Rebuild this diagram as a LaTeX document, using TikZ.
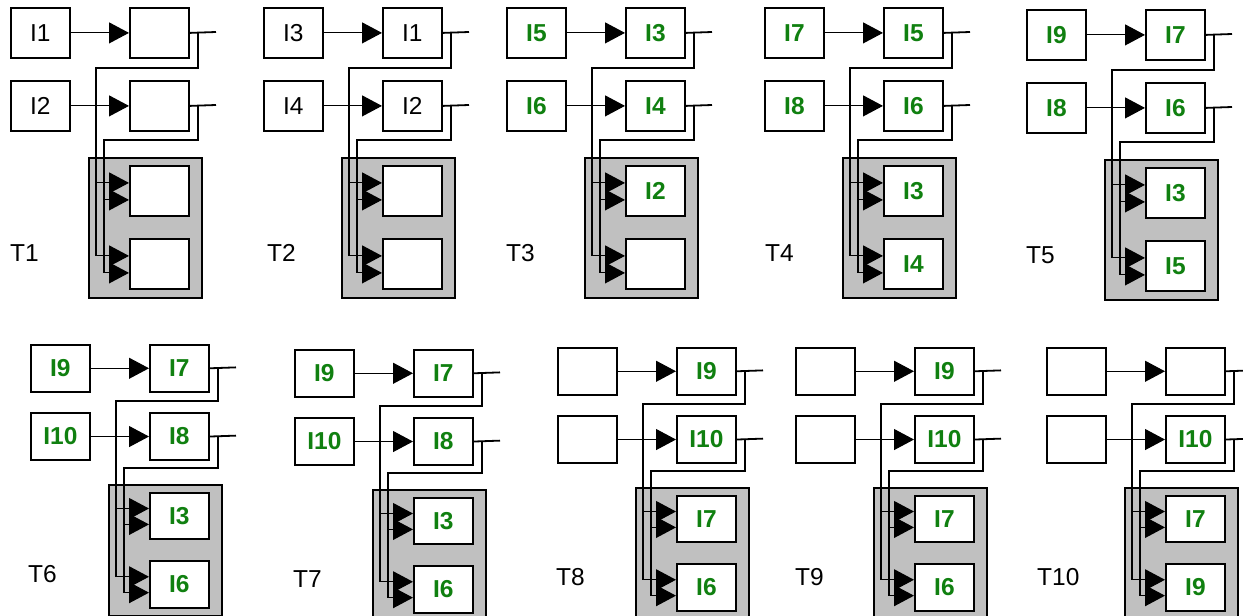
\documentclass[tikz,border=0pt]{standalone}
\usepackage{fontspec}
\setmainfont{Liberation Sans}
\usetikzlibrary{arrows.meta,calc}
\definecolor{igreen}{RGB}{16,128,16}
\definecolor{panelgray}{RGB}{192,192,192}
\newcommand\gi[1]{\textbf{\textcolor{igreen}{#1}}}
\tikzset{
  box/.style={draw=black, line width=1.8pt, fill=white, minimum width=59pt,
    inner sep=0pt, font=\fontsize{24.5}{28}\selectfont, anchor=north west},
  graybox/.style={draw=black, line width=1.8pt, fill=panelgray, minimum width=113pt,
    inner sep=0pt, anchor=north west},
  tlabel/.style={font=\fontsize{24.5}{28}\selectfont, anchor=west, inner sep=0pt},
  wire/.style={draw=black, line width=1.8pt},
  feed/.style={draw=black, line width=1.1pt, -{Triangle[length=20pt,width=21pt]}},
}
\newcommand\panel[9]{%
  \def\pn{#1}\def\px{#2}\def\py{#3}\def\ps{#4}\def\plab{#5}%
  \def\pa{#6}\def\pb{#7}\def\pc{#8}\def\pd{#9}\panelrest}
\newcommand\panelrest[3]{%
  \begin{scope}[shift={(\px,\py)}, yscale=\ps]
    \pgfmathsetmacro\bh{50*\ps}%
    \pgfmathsetmacro\gh{140*\ps}%
    \node[box, minimum height=\bh pt] (\pn-l1) at (0,0) {\pa};
    \node[box, minimum height=\bh pt] (\pn-r1) at (119,0) {\pb};
    \node[box, minimum height=\bh pt] (\pn-l2) at (0,73) {\pc};
    \node[box, minimum height=\bh pt] (\pn-r2) at (119,73) {\pd};
    \node[graybox, minimum height=\gh pt] (\pn-g) at (78,150) {};
    \node[box, minimum height=\bh pt] (\pn-q1) at (119,158) {#1};
    \node[box, minimum height=\bh pt] (\pn-q2) at (119,231) {#2};
    \node[tlabel] (\pn-t) at (#3,246) {\plab};
    % input arrows
    \draw[feed] (\pn-l1.east) -- (\pn-r1.west);
    \draw[feed] (\pn-l2.east) -- (\pn-r2.west);
    % stubs and routes
    \coordinate (\pn-s1) at (206,25);
    \coordinate (\pn-s2) at (206,98);
    \coordinate (\pn-a1) at (188,25);
    \coordinate (\pn-a2) at (188,98);
    \coordinate (\pn-c1) at (86,61);
    \coordinate (\pn-c2) at (94,133);
    \coordinate (\pn-e11) at ([yshift=8pt]\pn-q1.west);
    \coordinate (\pn-e12) at ([yshift=-9pt]\pn-q1.west);
    \coordinate (\pn-e21) at ([yshift=8pt]\pn-q2.west);
    \coordinate (\pn-e22) at ([yshift=-9pt]\pn-q2.west);
    \draw[wire] (\pn-r1.east) -- (\pn-s1);
    \draw[wire] (\pn-r2.east) -- (\pn-s2);
    \draw[wire] (\pn-a1) |- (\pn-c1) -- (\pn-c1 |- \pn-e21);
    \draw[wire] (\pn-a2) |- (\pn-c2) -- (\pn-c2 |- \pn-e22);
    \draw[feed] (\pn-c1 |- \pn-e11) -- (\pn-e11);
    \draw[feed] (\pn-c1 |- \pn-e21) -- (\pn-e21);
    \draw[feed] (\pn-c2 |- \pn-e12) -- (\pn-e12);
    \draw[feed] (\pn-c2 |- \pn-e22) -- (\pn-e22);
  \end{scope}}
\begin{document}
\begin{tikzpicture}[x=1pt,y=-1pt]
  \useasboundingbox (0,0) rectangle (1243,616);
  \fill[white] (0,0) rectangle (1243,616);
  \clip (0,0) rectangle (1243,616);
  \panel{T1}{10}{7}{1}{T1}{I1}{}{I2}{}{}{}{0}
  \panel{T2}{263}{7}{1}{T2}{I3}{I1}{I4}{I2}{}{}{4}
  \panel{T3}{506}{7}{1}{T3}{\gi{I5}}{\gi{I3}}{\gi{I6}}{\gi{I4}}{\gi{I2}}{}{0}
  \panel{T4}{764}{7}{1}{T4}{\gi{I7}}{\gi{I5}}{\gi{I8}}{\gi{I6}}{\gi{I3}}{\gi{I4}}{1}
  \panel{T5}{1026}{9}{1}{T5}{\gi{I9}}{\gi{I7}}{\gi{I8}}{\gi{I6}}{\gi{I3}}{\gi{I5}}{0}
  \panel{T6}{30}{344}{0.935}{T6}{\gi{I9}}{\gi{I7}}{\gi{I10}}{\gi{I8}}{\gi{I3}}{\gi{I6}}{-2}
  \panel{T7}{294}{349}{0.935}{T7}{\gi{I9}}{\gi{I7}}{\gi{I10}}{\gi{I8}}{\gi{I3}}{\gi{I6}}{-1}
  \panel{T8}{557}{347}{0.935}{T8}{}{\gi{I9}}{}{\gi{I10}}{\gi{I7}}{\gi{I6}}{-1}
  \panel{T9}{795}{347}{0.935}{T9}{}{\gi{I9}}{}{\gi{I10}}{\gi{I7}}{\gi{I6}}{0}
  \panel{T10}{1046}{347}{0.935}{T10}{}{}{}{\gi{I10}}{\gi{I7}}{\gi{I9}}{-9}
\end{tikzpicture}
\end{document}
